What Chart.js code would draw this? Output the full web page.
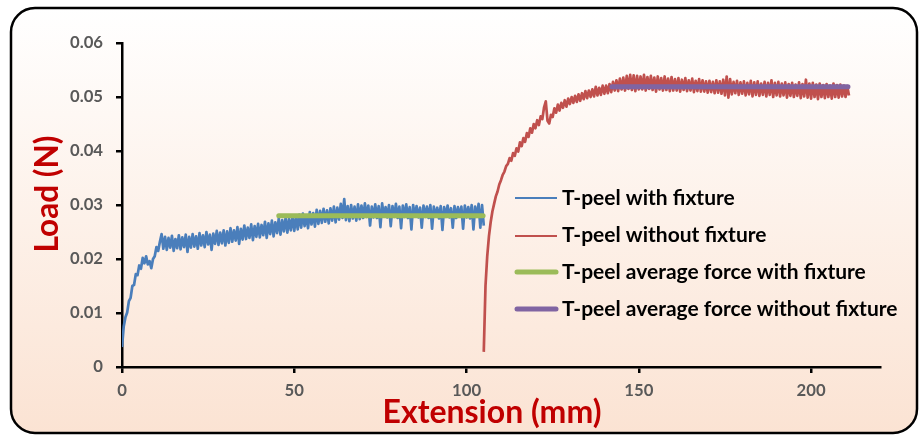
<!DOCTYPE html>
<html>
<head>
<meta charset="utf-8">
<script src="https://cdn.jsdelivr.net/npm/chart.js@4/dist/chart.umd.min.js"></script>
<style>
  html, body { margin: 0; padding: 0; background: #ffffff; }
  #c { display: block; }
</style>
</head>
<body>
<canvas id="c" width="919" height="435"></canvas>
<script>
// ---------- DATA ----------
const sampleStep = 0.5;            // mm between recorded samples
const withFixtureStart = 0;        // mm
const withoutFixtureStart = 105;   // mm

const loadWithFixture = [
  0.0037, 0.0075, 0.0092, 0.0101, 0.0122, 0.0128, 0.0150, 0.0152, 0.0172, 0.0170, 0.0188, 0.0182, 0.0202, 0.0192, 0.0205, 0.0190, 0.0196, 0.0183, 0.0200, 0.0205, 0.0222, 0.0215, 0.0232,
  0.0246, 0.0219, 0.0241, 0.0217, 0.0239, 0.0221, 0.0243, 0.0215, 0.0237, 0.0220, 0.0244, 0.0218, 0.0240, 0.0222, 0.0245, 0.0213, 0.0241, 0.0221,
  0.0246, 0.0223, 0.0242, 0.0219, 0.0248, 0.0225, 0.0244, 0.0222, 0.0250, 0.0227, 0.0245, 0.0217, 0.0247, 0.0228, 0.0252, 0.0226, 0.0249, 0.0229, 0.0253, 0.0225,
  0.0251, 0.0230, 0.0257, 0.0232, 0.0253, 0.0234, 0.0259, 0.0228, 0.0256, 0.0236, 0.0262, 0.0237, 0.0258, 0.0239, 0.0264, 0.0235, 0.0261, 0.0241, 0.0265, 0.0240,
  0.0263, 0.0244, 0.0269, 0.0239, 0.0266, 0.0246, 0.0271, 0.0242, 0.0268, 0.0248, 0.0275, 0.0245, 0.0272, 0.0251, 0.0277, 0.0249, 0.0274, 0.0253, 0.0279, 0.0252,
  0.0278, 0.0255, 0.0282, 0.0258, 0.0284, 0.0261, 0.0280, 0.0257, 0.0287, 0.0264, 0.0285, 0.0260, 0.0291, 0.0265, 0.0289, 0.0267, 0.0293, 0.0269, 0.0290, 0.0266,
  0.0294, 0.0271, 0.0297, 0.0268, 0.0295, 0.0273, 0.0302, 0.0276, 0.0311, 0.0272, 0.0298, 0.0270, 0.0300, 0.0275, 0.0297, 0.0271, 0.0301, 0.0274, 0.0299, 0.0276,
  0.0303, 0.0278, 0.0299, 0.0262, 0.0297, 0.0277, 0.0301, 0.0276, 0.0298, 0.0259, 0.0303, 0.0279, 0.0296, 0.0277, 0.0300, 0.0261, 0.0298, 0.0278, 0.0302, 0.0276,
  0.0297, 0.0257, 0.0299, 0.0278, 0.0301, 0.0276, 0.0296, 0.0255, 0.0300, 0.0279, 0.0298, 0.0277, 0.0295, 0.0258, 0.0299, 0.0278, 0.0297, 0.0276, 0.0300, 0.0256,
  0.0297, 0.0279, 0.0295, 0.0275, 0.0298, 0.0254, 0.0296, 0.0278, 0.0299, 0.0277, 0.0294, 0.0258, 0.0298, 0.0276, 0.0296, 0.0279, 0.0297, 0.0256, 0.0299, 0.0277,
  0.0296, 0.0275, 0.0300, 0.0255, 0.0297, 0.0278, 0.0302, 0.0258, 0.0300, 0.0262
];

const loadWithoutFixture = [
  0.0028, 0.0150, 0.0205, 0.0242, 0.0268, 0.0288, 0.0302, 0.0316, 0.0325, 0.0338, 0.0346, 0.0356, 0.0362, 0.0372, 0.0376,
  0.0387, 0.0382, 0.0396, 0.0391, 0.0405, 0.0399, 0.0416, 0.0409, 0.0424, 0.0417, 0.0433, 0.0426, 0.0442, 0.0434, 0.0450, 0.0442,
  0.0457, 0.0448, 0.0464, 0.0459, 0.0481, 0.0492, 0.0456, 0.0451, 0.0467, 0.0463, 0.0479, 0.0471, 0.0486, 0.0475, 0.0489, 0.0480, 0.0494, 0.0482, 0.0497, 0.0487,
  0.0500, 0.0489, 0.0502, 0.0491, 0.0505, 0.0493, 0.0507, 0.0496, 0.0511, 0.0498, 0.0512, 0.0500, 0.0514, 0.0501, 0.0519, 0.0503, 0.0517, 0.0504, 0.0521, 0.0506,
  0.0521, 0.0507, 0.0524, 0.0509, 0.0528, 0.0512, 0.0531, 0.0511, 0.0534, 0.0514, 0.0536, 0.0512, 0.0539, 0.0515, 0.0541, 0.0513, 0.0540, 0.0511, 0.0539, 0.0514,
  0.0538, 0.0514, 0.0541, 0.0512, 0.0537, 0.0515, 0.0539, 0.0513, 0.0536, 0.0510, 0.0538, 0.0514, 0.0535, 0.0512, 0.0538, 0.0513, 0.0534, 0.0511, 0.0537, 0.0512,
  0.0533, 0.0512, 0.0535, 0.0510, 0.0532, 0.0513, 0.0535, 0.0511, 0.0531, 0.0512, 0.0534, 0.0509, 0.0530, 0.0511, 0.0533, 0.0510, 0.0531, 0.0510, 0.0529, 0.0508,
  0.0530, 0.0509, 0.0528, 0.0507, 0.0531, 0.0508, 0.0529, 0.0506, 0.0532, 0.0503, 0.0538, 0.0499, 0.0533, 0.0505, 0.0528, 0.0507, 0.0530, 0.0504, 0.0527, 0.0506,
  0.0529, 0.0503, 0.0526, 0.0505, 0.0530, 0.0501, 0.0527, 0.0504, 0.0529, 0.0502, 0.0525, 0.0504, 0.0528, 0.0501, 0.0526, 0.0504, 0.0531, 0.0500, 0.0526, 0.0503,
  0.0528, 0.0501, 0.0525, 0.0503, 0.0527, 0.0499, 0.0524, 0.0502, 0.0526, 0.0500, 0.0523, 0.0502, 0.0527, 0.0498, 0.0524, 0.0501, 0.0532, 0.0499, 0.0525, 0.0497,
  0.0526, 0.0500, 0.0523, 0.0496, 0.0525, 0.0500, 0.0522, 0.0498, 0.0524, 0.0500, 0.0521, 0.0497, 0.0525, 0.0500, 0.0522, 0.0499, 0.0523, 0.0501, 0.0521, 0.0500, 0.0520, 0.0503
];

const avgWithFixtureExt = [45.5, 104.8];
const avgWithFixtureLoad = [0.0280, 0.0280];
const avgWithoutFixtureExt = [142.2, 210.7];
const avgWithoutFixtureLoad = [0.0519, 0.0519];

const seriesNames = [
  'T-peel with fixture',
  'T-peel without fixture',
  'T-peel average force with fixture',
  'T-peel average force without fixture'
];
const xTitle = 'Extension (mm)';
const yTitle = 'Load (N)';
const yTickLabels = ['0', '0.01', '0.02', '0.03', '0.04', '0.05', '0.06'];
const xTickLabels = ['0', '50', '100', '150', '200'];

// ---------- BUILD ----------
const toPoints = (start, arr) => arr.map((v, i) => ({ x: start + i * sampleStep, y: v }));
const pairPoints = (xs, ys) => xs.map((x, i) => ({ x: x, y: ys[i] }));

const FONT = 'Lato, "Open Sans", "Liberation Sans", sans-serif';

// font size such that text takes the given width
const mctx = document.createElement('canvas').getContext('2d');
function fitSize(text, width) {
  mctx.font = 'bold 100px ' + FONT;
  return 100 * width / mctx.measureText(text).width;
}
const legendSize = fitSize(seriesNames[3], 335);
const xTitleSize = fitSize(xTitle, 219);
const yTitleSize = fitSize(yTitle, 117);
const tickSize = fitSize('0.06', 33);

const backgroundPlugin = {
  id: 'bgBox',
  beforeDraw(chart) {
    const ctx = chart.ctx;
    ctx.save();
    const x = 11, y = 8, w = 906, h = 425, r = 24;
    const g = ctx.createLinearGradient(0, y, 0, y + h);
    g.addColorStop(0, '#ffffff');
    g.addColorStop(1, '#fbe3d3');
    ctx.beginPath();
    ctx.moveTo(x + r, y);
    ctx.lineTo(x + w - r, y);
    ctx.arcTo(x + w, y, x + w, y + r, r);
    ctx.lineTo(x + w, y + h - r);
    ctx.arcTo(x + w, y + h, x + w - r, y + h, r);
    ctx.lineTo(x + r, y + h);
    ctx.arcTo(x, y + h, x, y + h - r, r);
    ctx.lineTo(x, y + r);
    ctx.arcTo(x, y, x + r, y, r);
    ctx.closePath();
    ctx.fillStyle = g;
    ctx.fill();
    ctx.lineWidth = 2.5;
    ctx.strokeStyle = '#000000';
    ctx.stroke();
    ctx.restore();
  }
};

const titlesAndLegendPlugin = {
  id: 'titlesLegend',
  afterDraw(chart) {
    const ctx = chart.ctx;
    ctx.save();
    // axis titles
    ctx.fillStyle = '#c00000';
    ctx.textAlign = 'center';
    ctx.textBaseline = 'alphabetic';
    ctx.font = 'bold ' + xTitleSize.toFixed(1) + 'px ' + FONT;
    ctx.fillText(xTitle, 492, 423);
    ctx.save();
    ctx.translate(58, 194);
    ctx.rotate(-Math.PI / 2);
    ctx.font = 'bold ' + yTitleSize.toFixed(1) + 'px ' + FONT;
    ctx.fillText(yTitle, 0, 0);
    ctx.restore();
    // legend
    const rows = [198, 236, 272, 309];
    const baselines = [205, 242, 278.5, 315.5];
    chart.data.datasets.forEach((ds, i) => {
      const yy = rows[i];
      const thick = ds.borderWidth >= 4;
      ctx.beginPath();
      ctx.strokeStyle = ds.borderColor;
      ctx.lineWidth = thick ? 5 : 2;
      ctx.lineCap = thick ? 'round' : 'butt';
      ctx.moveTo(thick ? 517 : 515, yy);
      ctx.lineTo(thick ? 556 : 557, yy);
      ctx.stroke();
      ctx.fillStyle = '#000000';
      ctx.font = 'bold ' + legendSize.toFixed(1) + 'px ' + FONT;
      ctx.textAlign = 'left';
      ctx.textBaseline = 'alphabetic';
      ctx.fillText(ds.label, 562, baselines[i]);
    });
    ctx.restore();
  }
};

const axisCommon = {
  border: { display: true, color: '#000000', width: 2.5 },
  grid: { drawOnChartArea: false, drawTicks: true, tickLength: 6, color: '#000000', lineWidth: 2.5 },
};

new Chart(document.getElementById('c'), {
  type: 'scatter',
  data: {
    datasets: [
      { label: seriesNames[0], data: toPoints(withFixtureStart, loadWithFixture), showLine: true,
        borderColor: '#4a7ebb', borderWidth: 2.7, borderJoinStyle: 'round', pointRadius: 0, order: 2 },
      { label: seriesNames[1], data: toPoints(withoutFixtureStart, loadWithoutFixture), showLine: true,
        borderColor: '#c0504d', borderWidth: 2.7, borderJoinStyle: 'round', pointRadius: 0, order: 2 },
      { label: seriesNames[2], data: pairPoints(avgWithFixtureExt, avgWithFixtureLoad), showLine: true,
        borderColor: '#9bbb59', borderWidth: 5, borderCapStyle: 'round', pointRadius: 0, order: 1 },
      { label: seriesNames[3], data: pairPoints(avgWithoutFixtureExt, avgWithoutFixtureLoad), showLine: true,
        borderColor: '#8064a2', borderWidth: 5, borderCapStyle: 'round', pointRadius: 0, order: 1 }
    ]
  },
  options: {
    responsive: false,
    animation: false,
    devicePixelRatio: 1,
    layout: { padding: { left: 0, top: 43, right: 39, bottom: 0 } },
    plugins: { legend: { display: false }, tooltip: { enabled: false } },
    scales: {
      x: Object.assign({}, axisCommon, {
        type: 'linear', min: 0, max: 220,
        afterFit(s) { s.height = 68; },
        ticks: {
          stepSize: 50, includeBounds: false, color: '#595959', padding: 8,
          font: { family: FONT, size: tickSize, weight: 'bold' },
          maxRotation: 0,
          callback: (v) => { const k = xTickLabels.indexOf(String(v)); return k >= 0 ? xTickLabels[k] : ''; }
        }
      }),
      y: Object.assign({}, axisCommon, {
        type: 'linear', min: 0, max: 0.06,
        afterFit(s) { s.width = 122; },
        ticks: {
          stepSize: 0.01, color: '#595959', padding: 13,
          font: { family: FONT, size: tickSize, weight: 'bold' },
          callback: (v) => yTickLabels[Math.round(v * 100)]
        }
      })
    }
  },
  plugins: [backgroundPlugin, titlesAndLegendPlugin]
});
</script>
</body>
</html>
